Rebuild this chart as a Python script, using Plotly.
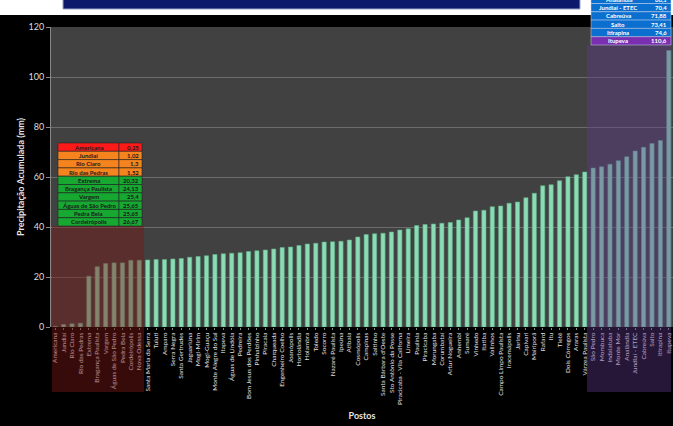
import plotly.graph_objects as go

postos = ["Americana", "Jundiaí", "Rio Claro", "Rio das Pedras", "Extrema", "Bragança Paulista",
          "Vargem", "Águas de São Pedro", "Pedra Bela", "Cordeirópolis", "Nova Odessa",
          "Santa Maria da Serra", "Tuiuti", "Amparo", "Serra Negra", "Santa Gertrudes",
          "Jaguariúna", "Mogi-Mirim", "Mogi-Guaçu", "Monte Alegre do Sul", "Itapeva",
          "Águas de Lindóia", "Pedreira", "Bom Jesus dos Perdões", "Pinhalzinho", "Piracaia",
          "Charqueada", "Engenheiro Coelho", "Joanópolis", "Hortolândia", "Holambra", "Toledo",
          "Socorro", "Nazaré Paulista", "Ipeúna", "Atibaia", "Cosmópolis", "Campinas", "Saltinho",
          "Santa Bárbara d'Oeste", "Sto Antônio da Posse", "Piracicaba - Vila Californa", "Limeira",
          "Paulínia", "Piracicaba", "Morungaba", "Corumbataí", "Artur Nogueira", "Anhembi",
          "Sumaré", "Vinhedo", "Itatiba", "Valinhos", "Campo Limpo Paulista", "Iracemápolis",
          "Jarinu", "Capivari", "Mairiporã", "Rafard", "Itu", "Tietê", "Dois Córregos", "Araras",
          "Várzea Paulista", "São Pedro", "Mombuca", "Indaiatuba", "Monte Mor", "Analândia",
          "Jundiaí - ETEC", "Cabreúva", "Salto", "Itirapina", "Itupeva"]

precipitacao = [0.25, 1.02, 1.3, 1.52, 20.32, 24.13, 25.4, 25.65, 25.65, 26.67,
                26.7, 26.8, 27.0, 27.0, 27.2, 27.4, 27.9, 28.2, 28.5, 29.0,
                29.3, 29.5, 29.7, 30.2, 30.5, 30.8, 31.2, 31.8, 32.0, 32.6,
                33.2, 33.5, 34.0, 34.1, 34.3, 34.8, 36.0, 37.0, 37.3, 37.5,
                38.0, 38.8, 39.3, 40.6, 41.0, 41.2, 41.5, 41.8, 42.8, 43.7,
                46.4, 46.7, 48.1, 48.4, 49.5, 50.0, 51.7, 53.5, 56.5, 56.9,
                58.5, 60.1, 60.9, 62.0, 63.6, 64.1, 65.1, 66.5, 68.1, 70.4,
                71.88, 73.41, 74.6, 110.6]

y_ticks = [0, 20, 40, 60, 80, 100, 120]

W, H = 673, 426
ML, MR, MT, MB = 51, 0, 27, 99
PW, PH = W - ML - MR, H - MT - MB


def px(x):
    return (x - ML) / PW


def py(y):
    return (MT + PH - y) / PH


def fmt(v):
    s = ("%.2f" % v).rstrip("0").rstrip(".")
    return s.replace(".", ",")


fig = go.Figure()
fig.add_trace(go.Bar(
    x=postos, y=precipitacao,
    marker=dict(color="#8bdcb4", line=dict(color="#5fae8a", width=0.6)),
    width=0.5,
))

shapes = []
annotations = []
TF = "Lato"

# white top strip and banner
shapes.append(dict(type="rect", xref="paper", yref="paper", x0=px(0), x1=px(W), y0=py(15), y1=py(-2),
                   fillcolor="white", line=dict(width=0), layer="above"))
shapes.append(dict(type="rect", xref="paper", yref="paper", x0=px(63), x1=px(580), y0=py(9), y1=py(-2),
                   fillcolor="#0d1a6b", line=dict(color="#9aa3c8", width=1), layer="above"))

# translucent highlight regions
shapes.append(dict(type="rect", xref="paper", yref="paper", x0=px(52), x1=px(144), y0=py(392), y1=py(226),
                   fillcolor="rgba(125,25,25,0.45)", line=dict(width=0), layer="above"))
shapes.append(dict(type="rect", xref="paper", yref="paper", x0=px(587), x1=px(671), y0=py(392), y1=py(45),
                   fillcolor="rgba(95,55,140,0.40)", line=dict(width=0), layer="above"))

# left table (lowest values)
row_colors_left = ["#ff1a1a"] + ["#f5841f"] * 3 + ["#17a832"] * 6
tx0, tx1, tsplit = 58, 142, 119
ty0, rh = 143, 8.3
for i in range(10):
    y0 = ty0 + i * rh
    y1 = y0 + rh
    shapes.append(dict(type="rect", xref="paper", yref="paper", x0=px(tx0), x1=px(tsplit), y0=py(y1), y1=py(y0),
                       fillcolor=row_colors_left[i], line=dict(color="#222", width=0.6), layer="above"))
    shapes.append(dict(type="rect", xref="paper", yref="paper", x0=px(tsplit), x1=px(tx1), y0=py(y1), y1=py(y0),
                       fillcolor=row_colors_left[i], line=dict(color="#222", width=0.6), layer="above"))
    annotations.append(dict(xref="paper", yref="paper", x=px((tx0 + tsplit) / 2), y=py((y0 + y1) / 2),
                            xanchor="center", yanchor="middle",
                            text="<b>%s</b>" % postos[i], showarrow=False,
                            font=dict(size=6, color="#1a1a1a", family=TF)))
    annotations.append(dict(xref="paper", yref="paper", x=px(tx1 - 1), y=py((y0 + y1) / 2),
                            xanchor="right", yanchor="middle",
                            text="<b>%s</b>" % fmt(precipitacao[i]), showarrow=False,
                            font=dict(size=6, color="#1a1a1a", family=TF)))

# right table (highest values)
rx0, rx1, rsplit = 591, 671, 645
ry_end = 45
n_right = 6
for k in range(n_right):
    idx = len(postos) - n_right + k
    y1 = ry_end - (n_right - 1 - k) * rh
    y0 = y1 - rh
    col = "#7a2fb0" if idx == len(postos) - 1 else "#0a6fcf"
    shapes.append(dict(type="rect", xref="paper", yref="paper", x0=px(rx0), x1=px(rx1), y0=py(y1), y1=py(y0),
                       fillcolor=col, line=dict(color="#c8d4ee", width=0.5), layer="above"))
    annotations.append(dict(xref="paper", yref="paper", x=px((rx0 + rsplit) / 2), y=py((y0 + y1) / 2),
                            xanchor="center", yanchor="middle",
                            text="<b>%s</b>" % postos[idx], showarrow=False,
                            font=dict(size=6, color="white", family=TF)))
    annotations.append(dict(xref="paper", yref="paper", x=px(rx1 - 2), y=py((y0 + y1) / 2),
                            xanchor="right", yanchor="middle",
                            text="<b>%s</b>" % fmt(precipitacao[idx]), showarrow=False,
                            font=dict(size=6, color="white", family=TF)))

fig.update_layout(
    width=W, height=H,
    margin=dict(l=ML, r=MR, t=MT, b=MB, pad=0),
    paper_bgcolor="black", plot_bgcolor="#414141",
    showlegend=False,
    bargap=0.5,
    font=dict(family="Lato", color="#e6e6e6"),
    shapes=shapes, annotations=annotations,
    xaxis=dict(type="category", tickangle=-90, tickfont=dict(size=6.5, color="#e0e0e0"),
               showgrid=False, ticks="outside", ticklen=2, tickcolor="#888",
               title=dict(text="<b>Postos</b>", font=dict(size=9, color="#e6e6e6"), standoff=8),
               showline=False, automargin=False),
    yaxis=dict(range=[0, 120], tickvals=y_ticks, tickfont=dict(size=9, color="#dddddd"),
               gridcolor="#6c6c6c", gridwidth=1, zeroline=False,
               ticks="outside", ticklen=4, tickcolor="#888",
               showline=True, linecolor="#888", linewidth=1,
               title=dict(text="<b>Precipitação Acumulada (mm)</b>", font=dict(size=9, color="#e6e6e6"), standoff=2),
               automargin=False),
)

fig.write_html("out.html", config={"displayModeBar": False},
               post_script="document.body.style.margin='0';document.body.style.overflow='hidden';")
